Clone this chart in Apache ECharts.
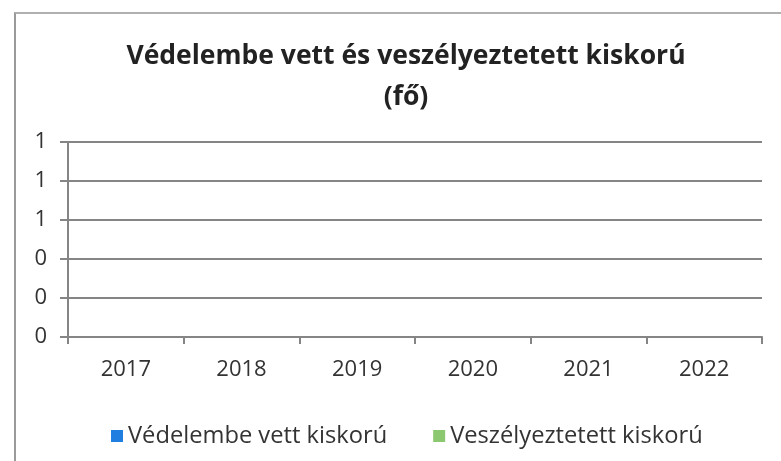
<!DOCTYPE html>
<html lang="hu">
  <head>
    <meta charset="UTF-8" />
    <title>Védelembe vett és veszélyeztetett kiskorú</title>
    <script src="https://cdn.jsdelivr.net/npm/echarts@6/dist/echarts.min.js"></script>
    <style>
      * {
        margin: 0;
        padding: 0;
      }
      body {
        background: #fff;
      }
      #frame {
        position: absolute;
        left: 14px;
        top: 12px;
        width: 800px;
        height: 470px;
        border-left: 2px solid #9a9a9a;
        border-top: 2px solid #b0b0b0;
      }
    </style>
  </head>
  <body>
    <div id="frame"></div>
    <div id="charts" style="position: absolute; left: 0; top: 0; width: 781px; height: 461px"></div>
    <script>
      var years = ["2017", "2018", "2019", "2020", "2021", "2022"];
      var vedelembe = [0, 0, 0, 0, 0, 0];
      var veszelyeztetett = [0, 0, 0, 0, 0, 0];

      var font = "'Open Sans', 'Liberation Sans', sans-serif";
      var lineColor = "#858585";

      var myEcharts = echarts.init(document.getElementById("charts"));
      var options = {
        animation: false,
        title: {
          text: "Védelembe vett és veszélyeztetett kiskorú\n(fő)",
          left: 401,
          top: 31,
          textAlign: "center",
          textStyle: {
            fontFamily: font,
            fontSize: 26.5,
            fontWeight: "bold",
            color: "#222",
            lineHeight: 41,
          },
        },
        legend: {
          top: 419,
          left: 106,
          itemWidth: 12,
          itemHeight: 12,
          itemGap: 46,
          icon: "rect",
          textStyle: { fontFamily: font, fontSize: 23.7, color: "#333" },
          data: ["Védelembe vett kiskorú", "Veszélyeztetett kiskorú"],
        },
        grid: { left: 68, right: 19, top: 142, bottom: 124 },
        xAxis: {
          type: "category",
          data: years,
          axisLine: { lineStyle: { color: lineColor, width: 2 } },
          axisTick: { show: true, length: 7, lineStyle: { color: lineColor, width: 2 } },
          axisLabel: { fontFamily: font, fontSize: 22, color: "#333", margin: 22 },
        },
        yAxis: {
          type: "value",
          min: 0,
          max: 1,
          interval: 0.2,
          axisLine: { show: true, lineStyle: { color: lineColor, width: 2 } },
          axisTick: { show: true, length: 8, lineStyle: { color: lineColor, width: 2 } },
          splitLine: { lineStyle: { color: lineColor, width: 2 } },
          axisLabel: {
            fontFamily: font,
            fontSize: 22,
            color: "#333",
            margin: 21,
            formatter: function (v) {
              return Math.round(v);
            },
          },
        },
        series: [
          {
            name: "Védelembe vett kiskorú",
            type: "bar",
            data: vedelembe,
            itemStyle: { color: "#1f7ee0" },
          },
          {
            name: "Veszélyeztetett kiskorú",
            type: "bar",
            data: veszelyeztetett,
            itemStyle: { color: "#8cc870" },
          },
        ],
      };
      myEcharts.setOption(options);
    </script>
  </body>
</html>
